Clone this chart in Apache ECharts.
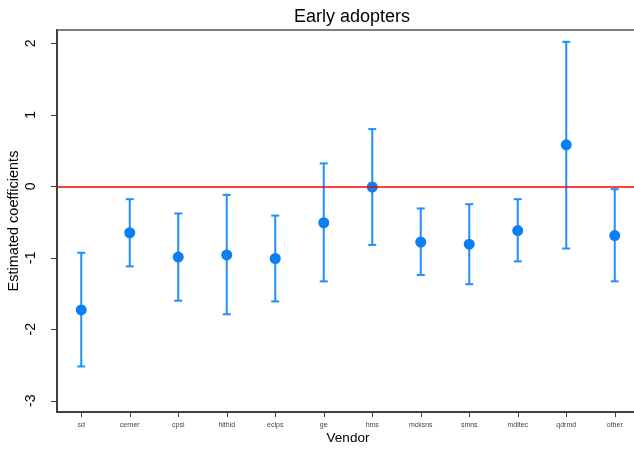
<!DOCTYPE html>
<html>
<head>
<meta charset="utf-8">
<script src="https://cdn.jsdelivr.net/npm/echarts@6/dist/echarts.min.js"></script>
<style>
html,body{margin:0;padding:0;background:#fff;}
#chart{width:634px;height:449px;}
</style>
</head>
<body>
<div id="chart"></div>
<script>
var categories = ["sd","cerner","cpsi","hlthld","eclps","ge","hms","mcksns","smns","mdltec","qdrmd","other"];
var estimates = [-1.73,-0.65,-0.99,-0.96,-1.01,-0.51,-0.01,-0.78,-0.81,-0.62,0.58,-0.69];
var lower = [-2.52,-1.12,-1.60,-1.79,-1.61,-1.33,-0.82,-1.24,-1.37,-1.05,-0.87,-1.33];
var upper = [-0.93,-0.18,-0.38,-0.12,-0.41,0.32,0.80,-0.31,-0.25,-0.18,2.02,-0.04];
var yTicks = [-3,-2,-1,0,1,2];

var positions = categories.map(function(c,i){return i+1;});
var ciData = positions.map(function(p,i){return [p, lower[i], upper[i]];});
var ptData = positions.map(function(p,i){return [p, estimates[i]];});

var chart = echarts.init(document.getElementById('chart'), null, {renderer:'canvas'});
var font = 'Liberation Sans, Arial, sans-serif';
chart.setOption({
  animation:false,
  backgroundColor:'#fff',
  title:{text:'Early adopters', left:347, top:3, textAlign:'center',
    textStyle:{fontFamily:font, fontSize:18, fontWeight:'normal', color:'#000'}},
  grid:{left:57, right:-5, top:30, bottom:37, containLabel:false, outerBoundsMode:'none',
    show:true, borderColor:'#808080', borderWidth:2, backgroundColor:'transparent'},
  xAxis:{type:'value', min:0.5, max:12.5,
    name:'Vendor', nameLocation:'middle', nameGap:19, nameMoveOverlap:false,
    nameTextStyle:{fontFamily:font, fontSize:13.5, color:'#000'},
    axisLine:{show:true, onZero:false, lineStyle:{color:'#404040', width:2}},
    axisTick:{show:true, length:5, customValues:positions, lineStyle:{color:'#404040', width:1}},
    axisLabel:{customValues:positions, fontFamily:font, fontSize:7, color:'#444', margin:10,
      formatter:function(v){ return categories[Math.round(v)-1] || ''; }},
    splitLine:{show:false}},
  yAxis:{type:'value', min:-3.157, max:2.186,
    name:'Estimated coefficients', nameLocation:'middle', nameGap:36, nameMoveOverlap:false,
    nameTextStyle:{fontFamily:font, fontSize:14.5, color:'#000'},
    axisLine:{show:true, onZero:false, lineStyle:{color:'#404040', width:2}},
    axisTick:{show:true, length:6, customValues:yTicks, lineStyle:{color:'#404040', width:1}},
    axisLabel:{customValues:yTicks, rotate:90, fontFamily:font, fontSize:14, color:'#000', margin:19},
    splitLine:{show:false}},
  series:[
    {type:'custom', data:ciData, z:2,
      renderItem:function(params, api){
        var x = api.value(0);
        var lo = api.coord([x, api.value(1)]);
        var hi = api.coord([x, api.value(2)]);
        var hw = 4;
        var st = {stroke:'#1E8FFF', lineWidth:2};
        return {type:'group', children:[
          {type:'line', shape:{x1:lo[0],y1:lo[1],x2:hi[0],y2:hi[1]}, style:st},
          {type:'line', shape:{x1:lo[0]-hw,y1:lo[1],x2:lo[0]+hw,y2:lo[1]}, style:st},
          {type:'line', shape:{x1:hi[0]-hw,y1:hi[1],x2:hi[0]+hw,y2:hi[1]}, style:st}
        ]};
      }},
    {type:'scatter', data:ptData, symbol:'circle', symbolSize:11, z:3,
      itemStyle:{color:'#0A7FF5', opacity:1},
      markLine:{silent:true, symbol:['none','none'], label:{show:false},
        lineStyle:{color:'#FF0000', width:1.5, type:'solid'},
        data:[{yAxis:0}]}}
  ]
});
</script>
</body>
</html>
